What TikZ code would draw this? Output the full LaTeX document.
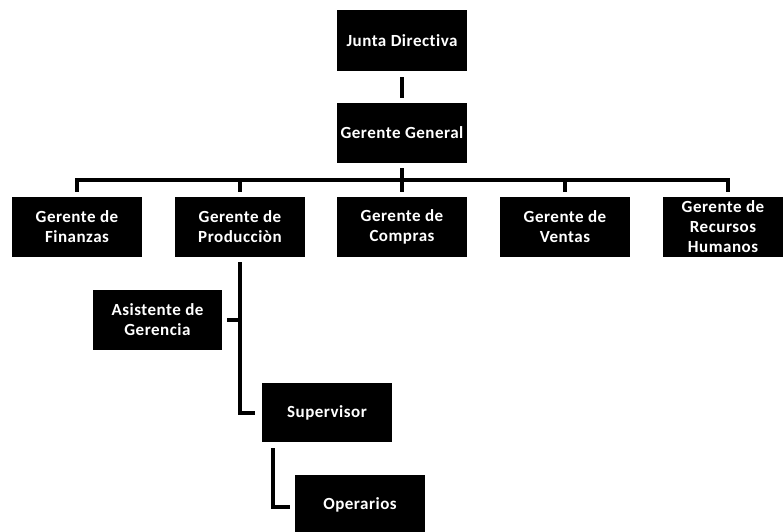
\documentclass[tikz,border=0pt]{standalone}
\usepackage{fontspec}
\setmainfont{Carlito}[LetterSpace=3,Ligatures=NoCommon]
\begin{document}
\begin{tikzpicture}[x=1pt,y=-1pt,
  box/.style={draw=none,fill=black,text=white,minimum width=130pt,minimum height=60pt,
    inner sep=0pt,align=center,font=\fontsize{17}{20}\selectfont\bfseries},
  conn/.style={draw=black,line width=4pt,line cap=butt,line join=miter}]
\useasboundingbox[fill=white] (0,0) rectangle (784,531);
\node[box,minimum height=61pt] (jd) at (402,40.5) {Junta Directiva};
\node[box] (gg) at (402,133) {Gerente General};
\node[box] (fin) at (77,227) {Gerente de\\Finanzas};
\node[box] (prod) at (240,227) {Gerente de\\Producciòn};
\node[box] (comp) at (402,227) {Gerente de\\Compras};
\node[box] (ven) at (565,227) {Gerente de\\Ventas};
\node[box,minimum width=120pt] (rh) at (723,227) {Gerente de\\Recursos\\Humanos};
\node[box,minimum width=129pt] (asis) at (157.5,320) {Asistente de\\Gerencia};
\node[box,minimum height=59pt] (sup) at (327,412.5) {Supervisor};
\node[box] (op) at (360,505) {Operarios};
\coordinate (bus) at ([yshift=-17pt]gg.south);
\draw[conn] ([yshift=-6pt]jd.south) -- ([yshift=5pt]gg.north);
\draw[conn] ([yshift=-5pt]gg.south) -- ([yshift=5pt]comp.north);
\draw[conn] ([yshift=5pt]fin.north) |- (bus) -| ([xshift=5pt,yshift=5pt]rh.north);
\draw[conn] ([yshift=5pt]prod.north) -- (prod.north |- bus);
\draw[conn] ([yshift=5pt]ven.north) -- (ven.north |- bus);
\draw[conn] ([yshift=-5pt]prod.south) |- ([xshift=-7pt]sup.west);
\draw[conn] ([xshift=5pt]asis.east) -- (asis.east -| prod.south);
\draw[conn] ([xshift=-54pt,yshift=-6pt]sup.south) |- ([xshift=-5pt,yshift=-2pt]op.west);
\end{tikzpicture}
\end{document}
